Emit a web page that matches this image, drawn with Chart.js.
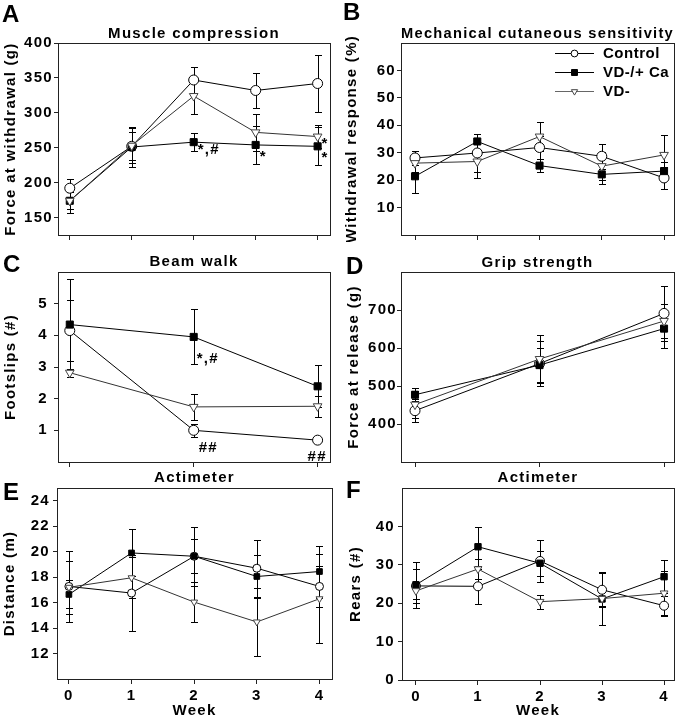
<!DOCTYPE html>
<html>
<head>
<meta charset="utf-8">
<script src="https://cdn.jsdelivr.net/npm/chart.js@4.4.1/dist/chart.umd.min.js"></script>
<style>
  body { margin: 0; background: #fff; }
  #fig { position: relative; width: 682px; height: 720px; overflow: hidden; }
  canvas { position: absolute; }
  .tag { position: absolute; z-index: 2; color: #000; font: bold 24px/24px 'Liberation Sans', Arial, sans-serif; }
</style>
</head>
<body>
<div id="fig">
  <canvas id="cA" width="341" height="242" style="left:0;top:0"></canvas>
  <canvas id="cB" width="341" height="242" style="left:341px;top:0"></canvas>
  <canvas id="cC" width="341" height="230" style="left:0;top:240px"></canvas>
  <canvas id="cD" width="341" height="230" style="left:341px;top:240px"></canvas>
  <canvas id="cE" width="341" height="260" style="left:0;top:460px"></canvas>
  <canvas id="cF" width="341" height="260" style="left:341px;top:460px"></canvas>
  <div class="tag" style="left:2px;top:2px">A</div>
  <div class="tag" style="left:343px;top:0">B</div>
  <div class="tag" style="left:3px;top:252px">C</div>
  <div class="tag" style="left:346px;top:254px">D</div>
  <div class="tag" style="left:3px;top:480px">E</div>
  <div class="tag" style="left:346px;top:478px">F</div>
</div>
<script>
const weeks = [0, 1, 2, 3, 4];
const beamWeeks = [0, 2, 4];

// A: muscle compression, force at withdrawal (g), mean and error
const compControl = [192, 252, 347, 332, 342];
const compControlErr = [13, 20, 18, 25, 41];
const compVDCa = [174, 251, 258, 254, 252];
const compVDCaErr = [17, 28, 13, 27, 27];
const compVD = [174, 253, 324, 272, 266];
const compVDErr = [12, 25, 25, 26, 17];

// B: mechanical cutaneous sensitivity (%)
const sensControl = [28.1, 29.9, 31.9, 28.7, 20.8];
const sensControlErr = [2.7, 6.9, 4.2, 4.6, 4.1];
const sensVDCa = [21.4, 34.1, 25.3, 22.1, 23.3];
const sensVDCaErr = [6.2, 2.8, 2.4, 3.6, 3.4];
const sensVD = [26.2, 26.8, 35.9, 25.1, 29.2];
const sensVDErr = [3.2, 6.2, 5.2, 5.0, 7.2];

// C: beam walk footslips (weeks 0, 2, 4)
const beamControl = [4.15, 1.0, 0.69];
const beamControlErr = [0.95, 0.21, 0.07];
const beamVDCa = [4.34, 3.95, 2.39];
const beamVDCaErr = [1.44, 0.87, 0.66];
const beamVD = [2.82, 1.74, 1.76];
const beamVDErr = [0.12, 0.42, 0.33];

// D: grip strength, force at release (g)
const gripControl = [435, 559, 691];
const gripControlErr = [30, 60, 72];
const gripVDCa = [477, 555, 651];
const gripVDCaErr = [17, 45, 50];
const gripVD = [451, 571, 671];
const gripVDErr = [36, 62, 45];

// E: actimeter distance (m)
const distControl = [17.27, 16.75, 19.64, 18.7, 17.27];
const distControlErr = [2.8, 3.0, 2.3, 2.25, 1.6];
const distVDCa = [16.64, 19.9, 19.64, 18.05, 18.44];
const distVDCaErr = [1.1, 1.85, 1.35, 1.65, 2.04];
const distVD = [17.2, 17.95, 16.04, 14.48, 16.3];
const distVDErr = [2.1, 1.6, 1.56, 2.7, 3.5];

// F: actimeter rears (#)
const rearControl = [24.5, 24.4, 31.0, 23.5, 19.35];
const rearControlErr = [4.4, 4.6, 5.4, 4.5, 2.4];
const rearVDCa = [24.8, 34.7, 30.4, 21.1, 26.9];
const rearVDCaErr = [6.0, 5.1, 3.2, 6.8, 4.3];
const rearVD = [23.2, 28.9, 20.4, 21.2, 22.6];
const rearVDErr = [2.0, 2.7, 1.8, 2.0, 5.9];

// tick labels
const compTicks = [150, 200, 250, 300, 350, 400];
const sensTicks = [10, 20, 30, 40, 50, 60];
const beamTicks = [1, 2, 3, 4, 5];
const gripTicks = [400, 500, 600, 700];
const distTicks = [12, 14, 16, 18, 20, 22, 24];
const rearTicks = [0, 10, 20, 30, 40];

const FONT = "'Liberation Sans', Arial, sans-serif";
Chart.defaults.font.family = FONT;
Chart.defaults.font.size = 15;
Chart.defaults.font.weight = 'bold';
Chart.defaults.color = '#000';

const looks = {
  'Control':  { shape: 'circle',   rot: 0,   fill: '#fff', edge: '#000', line: '#000', keyR: 3.4 },
  'VD-/+ Ca': { shape: 'rect',     rot: 0,   fill: '#000', edge: '#000', line: '#000', keyR: 4.2 },
  'VD-':      { shape: 'triangle', rot: 180, fill: '#fff', edge: '#444', line: '#333', keyR: 3.6 }
};

// star / hash marks, offsets in px from the point they belong to
const notesByPanel = {
  cA: [
    { who: 'VD-/+ Ca', at: 2, text: '*,#', dx: 4, dy: 12 },
    { who: 'VD-/+ Ca', at: 3, text: '*', dx: 4, dy: 16 },
    { who: 'VD-/+ Ca', at: 4, text: '*', dx: 4, dy: 16 },
    { who: 'VD-', at: 4, text: '*', dx: 4, dy: 11 }
  ],
  cC: [
    { who: 'VD-/+ Ca', at: 1, text: '*,#', dx: 3, dy: 26 },
    { who: 'Control', at: 1, text: '##', dx: 5, dy: 22 },
    { who: 'Control', at: 2, text: '##', dx: -10, dy: 21 }
  ]
};

const spacing = {
  id: 'spacing',
  beforeLayout(chart) { chart.ctx.letterSpacing = '1.3px'; },
  beforeDraw(chart) { chart.ctx.letterSpacing = '1.3px'; }
};

const frame = {
  id: 'frame',
  afterDraw(chart) {
    const a = chart.chartArea, ctx = chart.ctx;
    ctx.save();
    ctx.strokeStyle = '#222';
    ctx.lineWidth = 1;
    ctx.strokeRect(Math.round(a.left) + 0.5, Math.round(a.top) + 0.5,
      Math.round(a.right - a.left), Math.round(a.bottom - a.top));
    ctx.restore();
  }
};

const errorBars = {
  id: 'errorBars',
  beforeDatasetsDraw(chart) {
    const ctx = chart.ctx, ys = chart.scales.y;
    ctx.save();
    ctx.strokeStyle = '#000';
    ctx.lineWidth = 1;
    chart.data.datasets.forEach((ds, i) => {
      chart.getDatasetMeta(i).data.forEach((pt, j) => {
        const v = ds.data[j].y, e = ds.err[j];
        const x = Math.round(pt.x) + 0.5;
        const top = Math.round(ys.getPixelForValue(v + e)) + 0.5;
        const bot = Math.round(ys.getPixelForValue(v - e)) + 0.5;
        ctx.beginPath();
        ctx.moveTo(x, top); ctx.lineTo(x, bot);
        ctx.moveTo(x - 3.5, top); ctx.lineTo(x + 3.5, top);
        ctx.moveTo(x - 3.5, bot); ctx.lineTo(x + 3.5, bot);
        ctx.stroke();
      });
    });
    ctx.restore();
  }
};

const notes = {
  id: 'notes',
  afterDatasetsDraw(chart) {
    const list = notesByPanel[chart.canvas.id];
    if (!list) return;
    const ctx = chart.ctx;
    ctx.save();
    ctx.font = 'bold 15px ' + FONT;
    ctx.fillStyle = '#000';
    ctx.textAlign = 'left';
    ctx.textBaseline = 'alphabetic';
    list.forEach(n => {
      const i = chart.data.datasets.findIndex(d => d.label === n.who);
      const pt = chart.getDatasetMeta(i).data[n.at];
      ctx.fillText(n.text, pt.x + n.dx, pt.y + n.dy);
    });
    ctx.restore();
  }
};

const key = {
  id: 'key',
  afterDraw(chart) {
    if (chart.canvas.id !== 'cB') return;
    const ctx = chart.ctx, a = chart.chartArea;
    ctx.save();
    ctx.font = 'bold 15px ' + FONT;
    ctx.letterSpacing = '0.5px';
    ctx.textBaseline = 'middle';
    ctx.textAlign = 'left';
    ['Control', 'VD-/+ Ca', 'VD-'].forEach((name, k) => {
      const st = looks[name];
      const y = a.top + 10.5 + k * 19;
      const x0 = a.right - 119, x1 = a.right - 80;
      ctx.strokeStyle = name === 'VD-' ? '#666' : '#000';
      ctx.lineWidth = 1;
      ctx.beginPath(); ctx.moveTo(x0, y); ctx.lineTo(x1, y); ctx.stroke();
      ctx.fillStyle = st.fill;
      ctx.strokeStyle = st.edge;
      Chart.helpers.drawPoint(ctx, { pointStyle: st.shape, radius: st.keyR, rotation: st.rot, borderWidth: 1 }, (x0 + x1) / 2, y);
      ctx.fillStyle = '#000';
      ctx.fillText(name, a.right - 71, y + 0.5);
    });
    ctx.restore();
  }
};

function series(name, xs, ys, errs, r) {
  const st = looks[name];
  return {
    label: name,
    data: xs.map((x, i) => ({ x: x, y: ys[i] })),
    err: errs,
    borderColor: st.line,
    borderWidth: 1,
    tension: 0,
    pointStyle: st.shape,
    pointRotation: st.rot,
    pointRadius: r,
    pointHoverRadius: r,
    pointBackgroundColor: st.fill,
    pointBorderColor: st.edge,
    pointBorderWidth: 1
  };
}

function noPad(s) { s.paddingLeft = s.paddingRight = s.paddingTop = s.paddingBottom = 0; }

function panel(id, o) {
  const showWeek = !!o.week;
  return new Chart(document.getElementById(id), {
    type: 'line',
    data: { datasets: o.sets },
    options: {
      responsive: false,
      animation: false,
      events: [],
      layout: { padding: { left: 0, right: o.padRight, top: 0, bottom: 0 } },
      plugins: {
        legend: { display: false },
        tooltip: { enabled: false },
        title: {
          display: true, text: o.title, fullSize: false,
          padding: { top: o.titleTop, bottom: o.titleBottom },
          font: { size: 15, weight: 'bold', lineHeight: 1.2 }, color: '#000'
        }
      },
      scales: {
        x: {
          type: 'linear', min: o.xmin, max: o.xmax,
          afterBuildTicks: s => { s.ticks = o.xTicks.map(v => ({ value: v })); },
          afterFit: s => { s.height = o.xAxisH; noPad(s); },
          grid: { drawOnChartArea: false, drawTicks: true, tickLength: 5, color: '#222', lineWidth: 1 },
          border: { display: false },
          ticks: { display: showWeek, padding: 3, autoSkip: false, maxRotation: 0, font: { size: 15, weight: 'bold' } },
          title: { display: showWeek, text: 'Week', padding: { top: 0, bottom: 0 }, font: { size: 15, weight: 'bold' } }
        },
        y: {
          min: o.ymin, max: o.ymax,
          afterBuildTicks: s => { s.ticks = o.yTicks.map(v => ({ value: v })); },
          afterFit: s => { s.width = o.yAxisW; noPad(s); },
          grid: { drawOnChartArea: false, drawTicks: true, tickLength: 4, color: '#222', lineWidth: 1 },
          border: { display: false },
          ticks: { padding: o.tickPad, autoSkip: false, font: { size: 15, weight: 'bold' } },
          title: { display: true, text: o.yTitle, padding: { top: o.yTitlePad, bottom: 0 }, font: { size: 15, weight: 'bold' } }
        }
      }
    },
    plugins: [spacing, errorBars, notes, frame, key]
  });
}

panel('cA', {
  title: 'Muscle compression', titleTop: 24.5, titleBottom: 0.5,
  yTitle: 'Force at withdrawal (g)', yTitlePad: 2, yAxisW: 58, tickPad: 1, padRight: 11, xAxisH: 7,
  xmin: -0.19, xmax: 4.2, xTicks: weeks, ymin: 125, ymax: 400, yTicks: compTicks,
  sets: [
    series('VD-', weeks, compVD, compVDErr, 5),
    series('VD-/+ Ca', weeks, compVDCa, compVDCaErr, 5),
    series('Control', weeks, compControl, compControlErr, 5)
  ]
});

panel('cB', {
  title: 'Mechanical cutaneous sensitivity', titleTop: 24.5, titleBottom: 0.5,
  yTitle: 'Withdrawal response (%)', yTitlePad: 2, yAxisW: 60, tickPad: 1, padRight: 8, xAxisH: 7,
  xmin: -0.225, xmax: 4.16, xTicks: weeks, ymin: 0, ymax: 70, yTicks: sensTicks,
  sets: [
    series('VD-', weeks, sensVD, sensVDErr, 5),
    series('VD-/+ Ca', weeks, sensVDCa, sensVDCaErr, 5),
    series('Control', weeks, sensControl, sensControlErr, 5)
  ]
});

panel('cC', {
  title: 'Beam walk', titleTop: 13, titleBottom: 1,
  yTitle: 'Footslips (#)', yTitlePad: 2, yAxisW: 58, tickPad: 6, padRight: 11, xAxisH: 8,
  xmin: -0.19, xmax: 4.2, xTicks: beamWeeks, ymin: 0, ymax: 6, yTicks: beamTicks,
  sets: [
    series('VD-', beamWeeks, beamVD, beamVDErr, 5),
    series('VD-/+ Ca', beamWeeks, beamVDCa, beamVDCaErr, 5),
    series('Control', beamWeeks, beamControl, beamControlErr, 5)
  ]
});

panel('cD', {
  title: 'Grip strength', titleTop: 13.5, titleBottom: 0.5,
  yTitle: 'Force at release (g)', yTitlePad: 3.5, yAxisW: 60, tickPad: 0, padRight: 8, xAxisH: 8,
  xmin: -0.225, xmax: 4.16, xTicks: beamWeeks, ymin: 300, ymax: 800, yTicks: gripTicks,
  sets: [
    series('VD-', beamWeeks, gripVD, gripVDErr, 5),
    series('VD-/+ Ca', beamWeeks, gripVDCa, gripVDCaErr, 5),
    series('Control', beamWeeks, gripControl, gripControlErr, 5)
  ]
});

panel('cE', {
  title: 'Actimeter', titleTop: 8.5, titleBottom: 1.5, week: true,
  yTitle: 'Distance (m)', yTitlePad: 0.5, yAxisW: 57, tickPad: 3, padRight: 9, xAxisH: 41,
  xmin: -0.19, xmax: 4.2, xTicks: weeks, ymin: 10, ymax: 25, yTicks: distTicks,
  sets: [
    series('VD-', weeks, distVD, distVDErr, 4),
    series('VD-/+ Ca', weeks, distVDCa, distVDCaErr, 4),
    series('Control', weeks, distControl, distControlErr, 4)
  ]
});

panel('cF', {
  title: 'Actimeter', titleTop: 8.5, titleBottom: 1.5, week: true,
  yTitle: 'Rears (#)', yTitlePad: 6, yAxisW: 61, tickPad: 3, padRight: 8, xAxisH: 40,
  xmin: -0.225, xmax: 4.16, xTicks: weeks, ymin: 0, ymax: 50, yTicks: rearTicks,
  sets: [
    series('VD-', weeks, rearVD, rearVDErr, 4.5),
    series('VD-/+ Ca', weeks, rearVDCa, rearVDCaErr, 4.5),
    series('Control', weeks, rearControl, rearControlErr, 4.5)
  ]
});
</script>
</body>
</html>
